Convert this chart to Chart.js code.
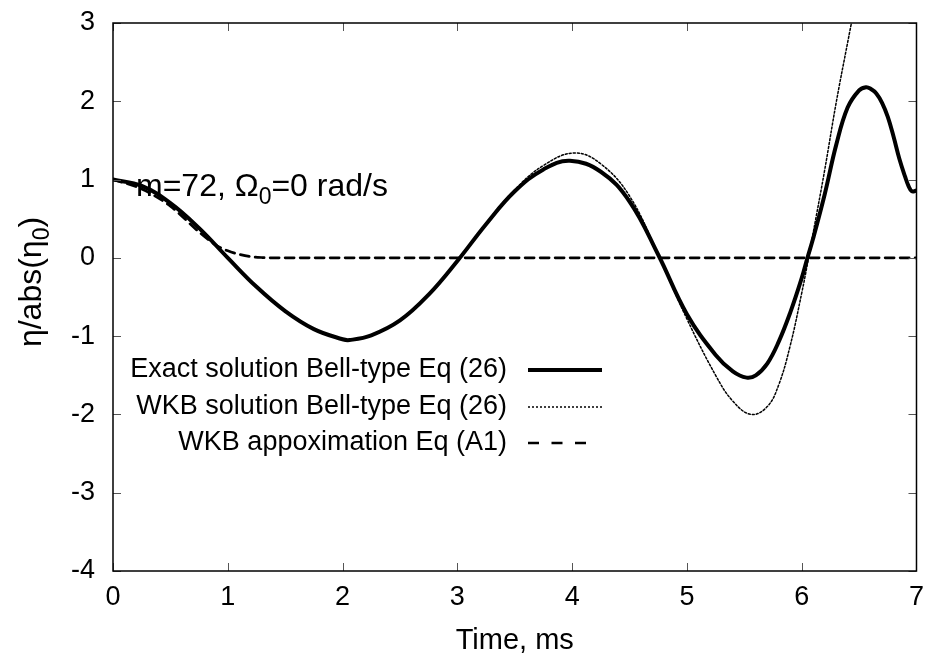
<!DOCTYPE html>
<html>
<head>
<meta charset="utf-8">
<script src="https://cdn.jsdelivr.net/npm/chart.js@4/dist/chart.umd.min.js"></script>
<style>
    html, body { margin: 0; padding: 0; background: #fff; }
    #etaChart { display: block; }
</style>
</head>
<body>
<canvas id="etaChart" width="934" height="666"></canvas>
<script>
// Chart data
const exactTime = [0, 0.25, 0.5, 0.75, 1.0, 1.25, 1.5, 1.75, 2.0, 2.06, 2.25, 2.5, 2.75, 3.0, 3.25, 3.5, 3.75, 3.98,
    4.25, 4.5, 4.75, 5.0, 5.25, 5.4, 5.52, 5.6, 5.7, 5.8, 5.9, 6.0, 6.05, 6.1, 6.2, 6.3, 6.4, 6.5, 6.56, 6.6,
    6.65, 6.7, 6.75, 6.8, 6.85, 6.9, 6.93, 6.96, 7.0];
const exactValues = [1.0, 0.92, 0.70, 0.38, 0.0, -0.37, -0.68, -0.91, -1.04, -1.05, -0.99, -0.80, -0.47, -0.04, 0.43, 0.85, 1.13, 1.24,
    1.10, 0.72, 0.04, -0.72, -1.24, -1.45, -1.53, -1.50, -1.35, -1.07, -0.70, -0.26, 0.0, 0.25, 0.81, 1.44, 1.92, 2.14, 2.18, 2.16,
    2.10, 1.98, 1.80, 1.55, 1.27, 1.04, 0.92, 0.85, 0.86];

const wkbTime = [0, 0.25, 0.5, 0.75, 1.0, 1.25, 1.5, 1.75, 2.0, 2.06, 2.25, 2.5, 2.75, 3.0, 3.25, 3.5, 3.75, 4.02,
    4.25, 4.5, 4.75, 5.0, 5.25, 5.4, 5.56, 5.7, 5.8, 5.9, 6.0, 6.06, 6.1, 6.2, 6.3, 6.4, 6.5];
const wkbValues = [1.0, 0.92, 0.70, 0.38, 0.0, -0.37, -0.68, -0.91, -1.04, -1.05, -0.99, -0.80, -0.47, -0.04, 0.44, 0.87, 1.18, 1.34,
    1.20, 0.79, 0.04, -0.78, -1.50, -1.83, -2.0, -1.90, -1.62, -1.12, -0.45, 0.0, 0.32, 1.12, 1.98, 2.75, 3.5];

const approxTime = [0, 0.25, 0.5, 0.75, 0.9, 1.0, 1.1, 1.2, 1.3, 1.45, 7.0];
const approxValues = [1.0, 0.88, 0.66, 0.33, 0.16, 0.09, 0.045, 0.015, 0.004, 0, 0];

const xTicks = [0, 1, 2, 3, 4, 5, 6, 7];
const yTicks = [-4, -3, -2, -1, 0, 1, 2, 3];

const seriesLabels = [
    'Exact solution Bell-type Eq (26)',
    'WKB solution Bell-type Eq (26)',
    'WKB appoximation Eq (A1)'
];

const FONT = '"Liberation Sans", Arial, Helvetica, sans-serif';
const FONT_SIZE = 27;

// Zip time/value arrays into {x, y} points
function toPoints(times, values) {
    return times.map((t, i) => ({ x: t, y: values[i] }));
}

// Draw text with a subscript part: parts = [[text, isSub], ...]
function drawSubText(ctx, parts, x, y, size) {
    let cx = x;
    parts.forEach(([text, isSub]) => {
        const s = isSub ? Math.round(size * 0.72) : size;
        ctx.font = `${s}px ${FONT}`;
        ctx.fillText(text, cx, isSub ? y + size * 0.25 : y);
        cx += ctx.measureText(text).width;
    });
    return cx - x;
}

function measureSubText(ctx, parts, size) {
    let w = 0;
    parts.forEach(([text, isSub]) => {
        const s = isSub ? Math.round(size * 0.72) : size;
        ctx.font = `${s}px ${FONT}`;
        w += ctx.measureText(text).width;
    });
    return w;
}

// Frame with inward ticks on all four sides (gnuplot style)
const framePlugin = {
    id: 'frame',
    afterDatasetsDraw(chart) {
        const { ctx, chartArea: a, scales } = chart;
        const tick = 8;
        ctx.save();
        ctx.strokeStyle = '#555';
        ctx.lineWidth = 1;
        ctx.beginPath();
        xTicks.forEach(v => {
            const px = Math.round(scales.x.getPixelForValue(v)) + 0.5;
            ctx.moveTo(px, a.bottom); ctx.lineTo(px, a.bottom - tick);
            ctx.moveTo(px, a.top); ctx.lineTo(px, a.top + tick);
        });
        yTicks.forEach(v => {
            const py = Math.round(scales.y.getPixelForValue(v)) + 0.5;
            ctx.moveTo(a.left, py); ctx.lineTo(a.left + tick, py);
            ctx.moveTo(a.right, py); ctx.lineTo(a.right - tick, py);
        });
        ctx.stroke();
        ctx.strokeStyle = '#000';
        ctx.lineWidth = 1.5;
        ctx.strokeRect(a.left, a.top, a.right - a.left, a.bottom - a.top);
        ctx.restore();
    }
};

// Legend: right-aligned text followed by a line sample
const legendPlugin = {
    id: 'gnuLegend',
    afterDatasetsDraw(chart) {
        const ctx = chart.ctx;
        const textRight = 507;
        const lineStart = 528;
        const lineEnd = 602;
        const rowY = [370, 407, 443];
        ctx.save();
        ctx.font = `${FONT_SIZE}px ${FONT}`;
        ctx.fillStyle = '#000';
        ctx.textAlign = 'right';
        ctx.textBaseline = 'middle';
        chart.data.datasets.forEach((ds, i) => {
            ctx.fillText(ds.label, textRight, rowY[i]);
            ctx.beginPath();
            ctx.strokeStyle = ds.borderColor;
            ctx.lineWidth = ds.borderWidth;
            ctx.setLineDash(ds.legendDash || ds.borderDash || []);
            ctx.moveTo(lineStart, rowY[i]);
            ctx.lineTo(i === 2 ? 588 : lineEnd, rowY[i]);
            ctx.stroke();
        });
        ctx.restore();
    }
};

// Annotation text and y axis title (both need a subscript)
const labelsPlugin = {
    id: 'labels',
    afterDraw(chart) {
        const ctx = chart.ctx;
        ctx.save();
        ctx.fillStyle = '#000';
        ctx.textAlign = 'left';
        ctx.textBaseline = 'alphabetic';
        drawSubText(ctx, [['m=72, Ω', false], ['0', true], ['=0 rad/s', false]], 136, 196, 32);

        const title = [['η/abs(η', false], ['0', true], [')', false]];
        const w = measureSubText(ctx, title, 32);
        ctx.translate(41, 282);
        ctx.rotate(-Math.PI / 2);
        drawSubText(ctx, title, -w / 2, 0, 32);
        ctx.restore();
    }
};

function renderChart() {
    const ctx = document.getElementById('etaChart');
    new Chart(ctx, {
        type: 'line',
        data: {
            datasets: [{
                label: seriesLabels[0],
                data: toPoints(exactTime, exactValues),
                borderColor: '#000',
                borderWidth: 4,
                borderDash: [],
                tension: 0.4
            }, {
                label: seriesLabels[1],
                data: toPoints(wkbTime, wkbValues),
                borderColor: '#000',
                borderWidth: 1.5,
                borderDash: [2, 2],
                tension: 0.4
            }, {
                label: seriesLabels[2],
                data: toPoints(approxTime, approxValues),
                borderColor: '#000',
                borderWidth: 2.7,
                borderDash: [9, 6],
                legendDash: [11, 12.5],
                cubicInterpolationMode: 'monotone'
            }]
        },
        options: {
            responsive: false,
            animation: false,
            devicePixelRatio: 1,
            layout: { padding: { top: 23, right: 17, left: 0, bottom: 0 } },
            elements: {
                point: { radius: 0 },
                line: { fill: false, borderCapStyle: 'round', borderJoinStyle: 'round' }
            },
            plugins: {
                legend: { display: false },
                tooltip: { enabled: false }
            },
            scales: {
                x: {
                    type: 'linear',
                    min: 0,
                    max: 7,
                    afterFit: scale => { scale.height = 95; },
                    afterBuildTicks: scale => { scale.ticks = xTicks.map(v => ({ value: v })); },
                    grid: { display: false, drawTicks: false },
                    border: { display: false },
                    ticks: {
                        color: '#000',
                        padding: 10,
                        maxRotation: 0,
                        font: { family: FONT, size: FONT_SIZE }
                    },
                    title: {
                        display: true,
                        text: 'Time, ms',
                        color: '#000',
                        padding: { top: 0, bottom: 8 },
                        font: { family: FONT, size: 29 }
                    }
                },
                y: {
                    min: -4,
                    max: 3,
                    afterFit: scale => {
                        scale.width = 113;
                        scale.paddingTop = 0;
                        scale.paddingBottom = 0;
                    },
                    afterBuildTicks: scale => { scale.ticks = yTicks.map(v => ({ value: v })); },
                    grid: { display: false, drawTicks: false },
                    border: { display: false },
                    ticks: {
                        color: '#000',
                        padding: 18,
                        font: { family: FONT, size: FONT_SIZE }
                    }
                }
            }
        },
        plugins: [framePlugin, legendPlugin, labelsPlugin]
    });
}

document.addEventListener('DOMContentLoaded', renderChart);
</script>
</body>
</html>
